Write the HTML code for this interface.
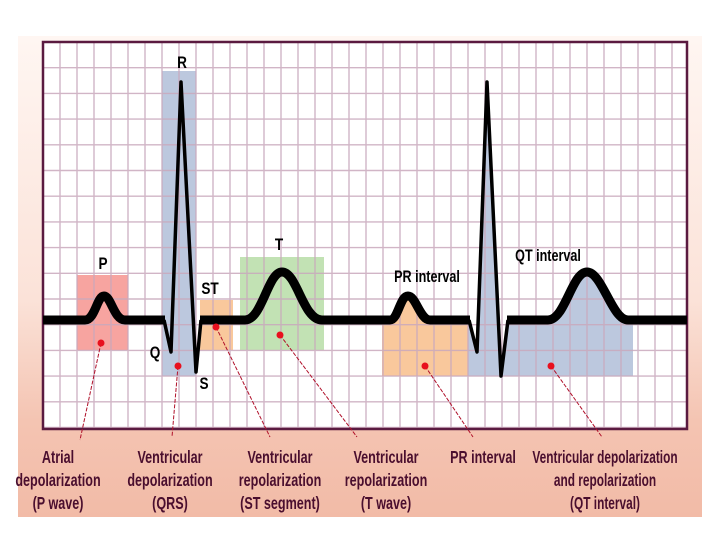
<!DOCTYPE html>
<html><head><meta charset="utf-8"><style>
html,body{margin:0;padding:0;background:#fff;width:720px;height:540px;overflow:hidden}
svg text{font-family:"Liberation Sans",sans-serif;font-weight:bold}
</style></head><body>
<svg width="720" height="540" viewBox="0 0 720 540">
<defs>
<linearGradient id="bg" x1="0" y1="0" x2="0" y2="1">
<stop offset="0" stop-color="#fff6f2"/><stop offset="0.55" stop-color="#fbe2d8"/><stop offset="0.8" stop-color="#f4c4b2"/><stop offset="1" stop-color="#f2bba7"/>
</linearGradient>
<clipPath id="cpPR"><rect x="382" y="250" width="86" height="126"/></clipPath>
<clipPath id="cpQT"><rect x="468" y="60" width="165" height="316"/></clipPath>
</defs>
<rect x="18" y="36" width="684" height="481" fill="url(#bg)"/>
<rect x="43" y="42" width="644" height="387" fill="#fff"/>
<g>
<rect x="77" y="275" width="51" height="75" fill="#f7a4a0"/>
<rect x="162" y="71" width="34" height="305" fill="#bcc8de"/>
<rect x="200" y="300" width="33" height="50" fill="#f9c89c"/>
<rect x="240" y="257" width="84" height="93" fill="#c2e2b4"/>
<path clip-path="url(#cpPR)" fill="#f9c89c" d="M380,320 L390,320 C398,320 400,296 408,296 C416,296 420,320 430,320 L475,320 L475,376 L380,376 Z"/>
<path clip-path="url(#cpQT)" fill="#bcc8de" d="M466,320 L470,320 L477,352 L487,82 L501,376 L507,320 L548,320 C565,320 572,272 587,272 C602,272 612,320 628,320 L640,320 L640,376 L466,376 Z"/>
</g>
<g stroke="#c9a9bd" stroke-width="1.4" opacity="0.85" id="grid"></g>
<rect x="43" y="42" width="644" height="387" fill="none" stroke="#5a1a40" stroke-width="2.5"/>
<g fill="none" stroke="#000" stroke-linejoin="round">
<path stroke-width="9" d="M43,320 L85,320 C95,320 97,296 104,296 C111,296 114,320 125,320 L165,320 M200,320 L245,320 C262,320 268,272 282,272 C297,272 303,320 322,320 L390,320 C398,320 400,296 408,296 C416,296 420,320 430,320 L470,320 M507,320 L548,320 C565,320 572,272 587,272 C602,272 612,320 628,320 L687,320"/>
<path stroke-width="3.5" d="M164,320 L171,352 L181,82 L196,372 L201,320"/>
<path stroke-width="3.5" d="M469,320 L477,352 L487,82 L501,376 L508,320"/>
</g>
<g fill="#000" font-size="17" text-anchor="middle">
<g transform="translate(103 0) scale(0.8 1)"><text x="0" y="269">P</text></g>
<g transform="translate(182 0) scale(0.8 1)"><text x="0" y="68">R</text></g>
<g transform="translate(155 0) scale(0.8 1)"><text x="0" y="358">Q</text></g>
<g transform="translate(204 0) scale(0.8 1)"><text x="0" y="389">S</text></g>
<g transform="translate(210 0) scale(0.8 1)"><text x="0" y="294">ST</text></g>
<g transform="translate(279 0) scale(0.8 1)"><text x="0" y="250">T</text></g>
<g transform="translate(427 0) scale(0.74 1)"><text x="0" y="282">PR interval</text></g>
<g transform="translate(548 0) scale(0.74 1)"><text x="0" y="261">QT interval</text></g>
</g>
<g stroke="#b0102a" stroke-width="1" stroke-dasharray="4,1.5" fill="none">
<line x1="101" y1="343" x2="80" y2="440"/><line x1="178" y1="366" x2="172" y2="437"/>
<line x1="216" y1="327" x2="270" y2="437"/><line x1="280" y1="335" x2="357" y2="437"/>
<line x1="425" y1="366" x2="473" y2="437"/><line x1="551" y1="366" x2="602" y2="437"/>
</g>
<g fill="#e8101e">
<circle cx="101" cy="343" r="3.5"/><circle cx="178" cy="366" r="3.5"/><circle cx="216" cy="327" r="3.5"/>
<circle cx="280" cy="335" r="3.5"/><circle cx="425" cy="366" r="3.5"/><circle cx="551" cy="366" r="3.5"/>
</g>
<g fill="#4a0e2e" font-size="18" text-anchor="middle">
<g transform="translate(58 0) scale(0.7 1)">
<text x="0" y="463">Atrial</text><text x="0" y="486">depolarization</text><text x="0" y="509">(P wave)</text></g>
<g transform="translate(170 0) scale(0.7 1)">
<text x="0" y="463">Ventricular</text><text x="0" y="486">depolarization</text><text x="0" y="509">(QRS)</text></g>
<g transform="translate(280 0) scale(0.7 1)">
<text x="0" y="463">Ventricular</text><text x="0" y="486">repolarization</text><text x="0" y="509">(ST segment)</text></g>
<g transform="translate(386 0) scale(0.7 1)">
<text x="0" y="463">Ventricular</text><text x="0" y="486">repolarization</text><text x="0" y="509">(T wave)</text></g>
<g transform="translate(483 0) scale(0.7 1)">
<text x="0" y="463">PR interval</text></g>
<g transform="translate(605 0) scale(0.66 1)">
<text x="0" y="463">Ventricular depolarization</text><text x="0" y="486">and repolarization</text><text x="0" y="509">(QT interval)</text></g>
</g>
</svg>
<script>
const g=document.getElementById('grid');
const NS='http://www.w3.org/2000/svg';
for(let x=43+17;x<687;x+=17){const l=document.createElementNS(NS,'line');


l.setAttribute('x1',x);l.setAttribute('x2',x);l.setAttribute('y1',42);l.setAttribute('y2',429);g.appendChild(l);}
for(let y=42+25.7;y<429;y+=25.7){const l=document.createElementNS(NS,'line');


l.setAttribute('x1',43);l.setAttribute('x2',687);l.setAttribute('y1',y);l.setAttribute('y2',y);g.appendChild(l);}
</script>
</body></html>
